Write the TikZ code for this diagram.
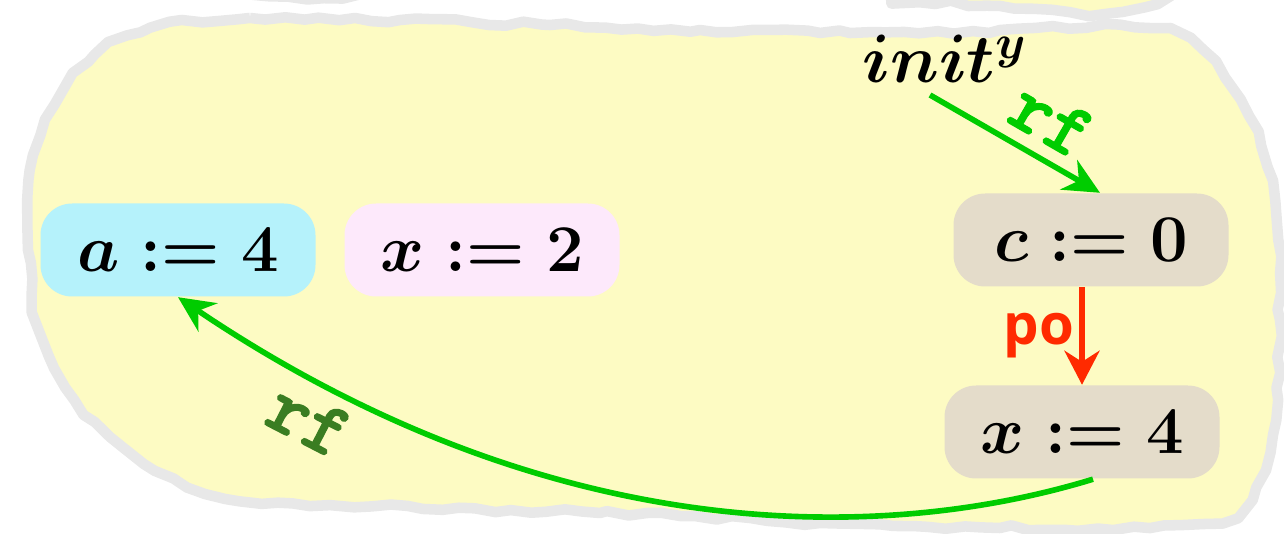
\RequirePackage{fix-cm}
\documentclass[tikz,border=0pt]{standalone}
\usepackage{fontspec}
\newfontfamily\posans{Open Sans}
\newfontfamily\rfmono[FakeBold=1.6]{lmmonolt10-bold.otf}
\usetikzlibrary{arrows.meta,decorations.pathmorphing}
\definecolor{BlobFill}{HTML}{FDFBC3}
\definecolor{BlobEdge}{HTML}{E8E8E8}
\definecolor{EvCyan}{HTML}{B5F2FB}
\definecolor{EvPink}{HTML}{FDE9FB}
\definecolor{EvSand}{HTML}{E4DCCA}
\definecolor{RfGreen}{HTML}{00CC00}
\definecolor{RfDark}{HTML}{3A7D22}
\definecolor{PoRed}{HTML}{FF2A00}
\begin{document}
\begin{tikzpicture}[x=1cm,y=1cm,
    blob/.style={fill=BlobFill,draw=BlobEdge,line width=3pt,line join=round,decorate,
      decoration={random steps,segment length=5pt,amplitude=0.8pt}},
    event/.style={rounded corners=9pt,minimum width=2.75cm,minimum height=0.93cm,
      inner sep=0pt,font=\fontsize{19}{22}\selectfont\boldmath},
    rfedge/.style={draw=RfGreen,line width=1.6pt,-{Stealth[length=3.6mm,width=3.4mm]}},
    rflabel/.style={font=\rfmono\fontsize{22}{24}\selectfont,sloped,inner sep=3.5pt}]
  \useasboundingbox (0,0) rectangle (12.84,5.34);

  % the two thread blobs
  \begin{scope}
    \clip (0,0) rectangle (12.84,5.34);
    \path[blob] plot[smooth cycle,tension=0.6] coordinates {
      (2.55,5.60) (2.90,5.37) (3.60,5.40) (4.40,5.60) (8.40,5.55) (9.00,5.37)
      (10.00,5.28) (11.07,5.21) (11.70,5.38) (12.10,5.70) (7.00,6.30)};
    \path[blob] plot[smooth cycle,tension=0.55] coordinates {
      (1.50,5.06) (2.50,5.16) (4.00,5.14) (5.50,5.09) (7.00,5.04) (8.50,5.01)
      (10.00,5.04) (11.20,5.09) (11.90,4.94) (12.40,4.34) (12.67,3.67) (12.78,2.94)
      (12.80,2.14) (12.78,1.34) (12.65,0.64) (12.35,0.19) (11.50,0.06) (10.00,0.06)
      (8.20,0.11) (6.00,0.21) (3.30,0.29) (2.05,0.41) (1.23,0.87) (0.75,1.34)
      (0.40,2.04) (0.28,2.84) (0.30,3.64) (0.55,4.29) (0.95,4.79)};
  \end{scope}

  % events
  \node[event,fill=EvCyan] (a4) at (1.78,2.84) {$a := 4$};
  \node[event,fill=EvPink] (x2) at (4.82,2.84) {$x := 2$};
  \node[event,fill=EvSand] (c0) at (10.91,2.94) {$c := 0$};
  \node[event,fill=EvSand] (x4) at (10.82,1.02) {$x := 4$};
  \node[inner sep=0pt,anchor=base,font=\fontsize{19.5}{22}\selectfont\boldmath]
    (inity) at (9.45,4.51) {$init^y$};

  % relations
  \draw[rfedge] ([shift={(-0.15,-0.12)}]inity.base) -- ([xshift=0.09cm]c0.north)
    node[rflabel,pos=0.6,above,text=RfGreen] {rf};
  \draw[draw=PoRed,line width=1.6pt,-{Stealth[length=3.4mm,width=3.5mm]}]
    ([xshift=-0.09cm]c0.south) -- (x4.north)
    node[midway,left,inner sep=1.5pt,text=PoRed,font=\posans\bfseries\fontsize{16}{18}\selectfont] {po};
  \draw[rfedge] ([xshift=0.11cm]x4.south) .. controls +(197:2.2) and +(-34:4.5) .. (a4.south)
    node[rflabel,pos=0.865,below,text=RfDark] {rf};
\end{tikzpicture}
\end{document}
